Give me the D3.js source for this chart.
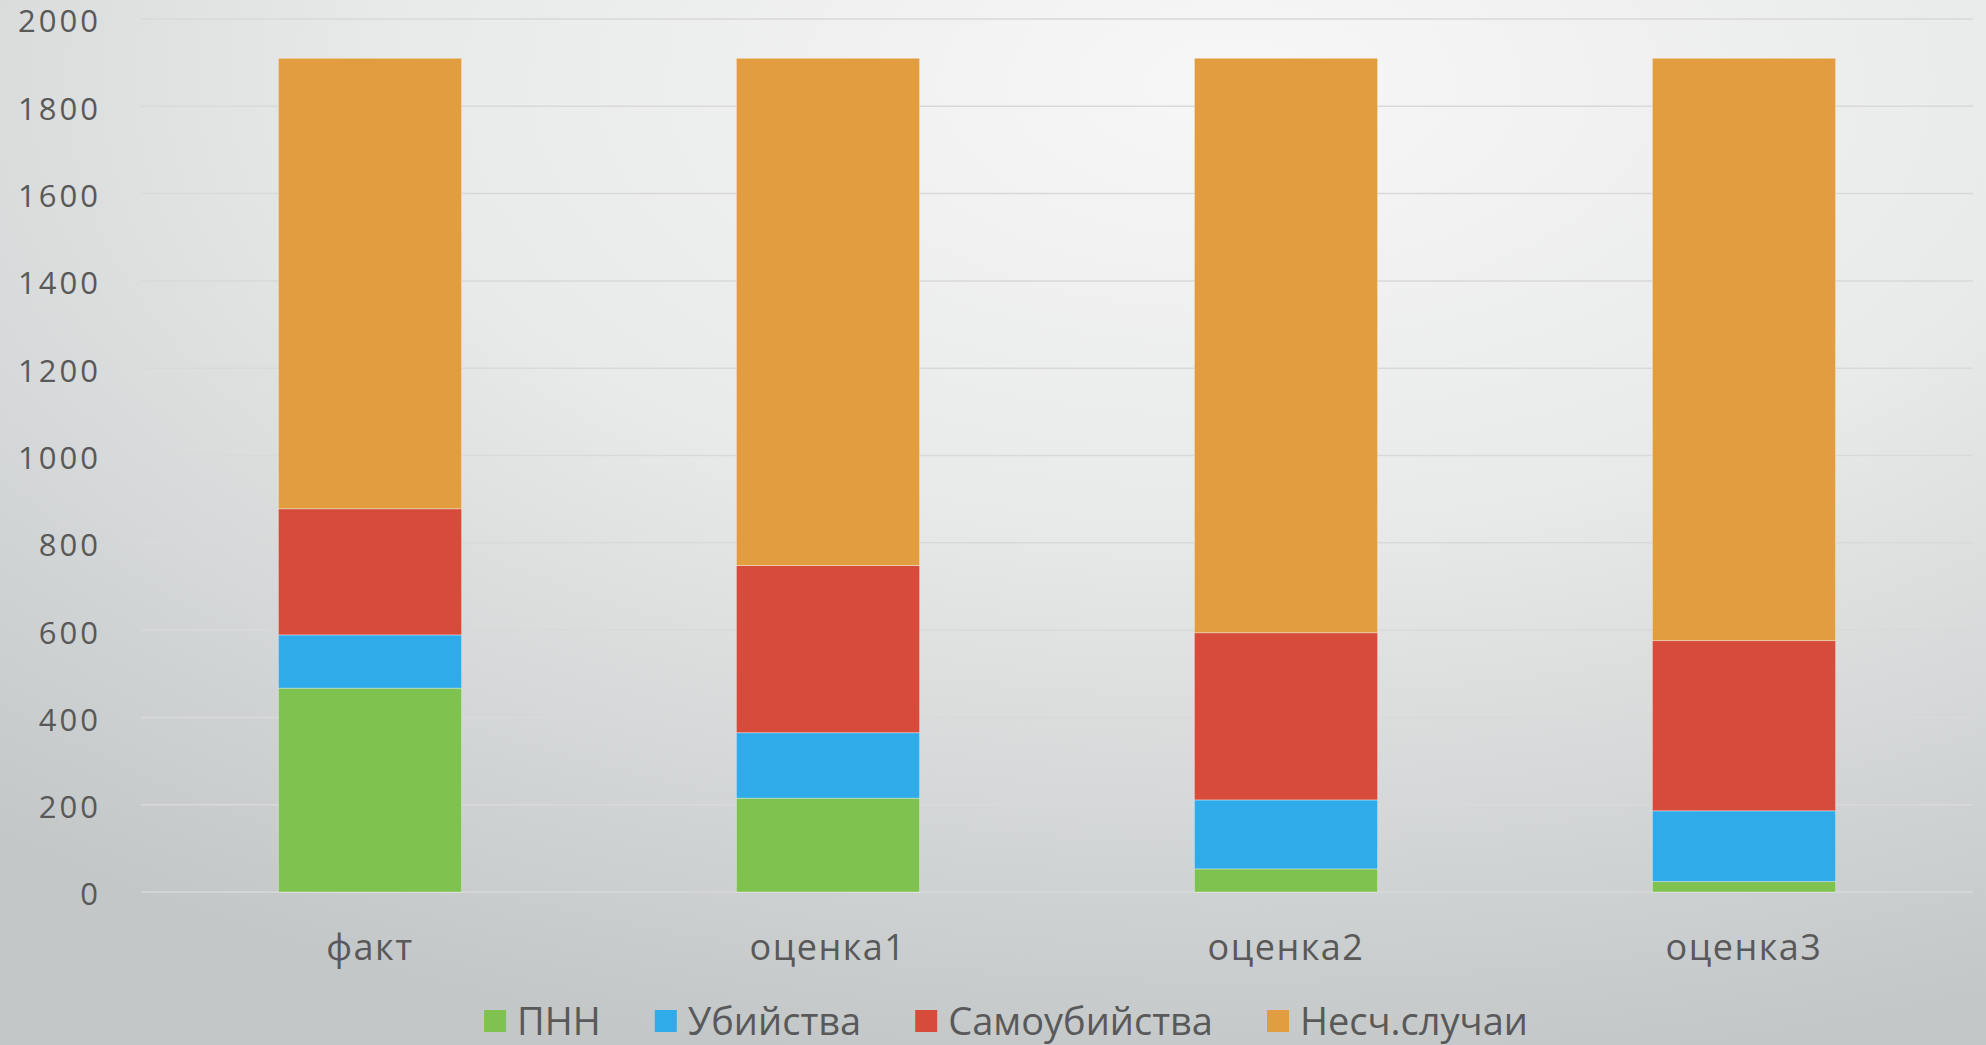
<!DOCTYPE html>
<html>
<head>
<meta charset="utf-8">
<title>Stacked bars</title>
<script src="https://cdn.jsdelivr.net/npm/d3@7"></script>
<style>
body { margin: 0; overflow: hidden; }
text { font-family: "Open Sans", sans-serif; fill: #595959; }
.grid line { stroke: #d9d9d9; stroke-width: 1.5px; }
</style>
</head>
<body>
<div id="chart"></div>
<script>
// categories and series
var categories = ["факт", "оценка1", "оценка2", "оценка3"];
var seriesNames = ["ПНН", "Убийства", "Самоубийства", "Несч.случаи"];
var pnn = [467, 215, 53, 24];
var ubiystva = [122, 150, 158, 162];
var samoubiystva = [289, 383, 383, 390];
var neschSluchai = [1032, 1162, 1316, 1334];
var yTicks = [0, 200, 400, 600, 800, 1000, 1200, 1400, 1600, 1800, 2000];

var colors = ["#7fc24f", "#30abea", "#d74b3b", "#e19d40"];

var width = 1986, height = 1045;

var rows = categories.map(function(c, i) {
  return {cat: c, "ПНН": pnn[i], "Убийства": ubiystva[i], "Самоубийства": samoubiystva[i], "Несч.случаи": neschSluchai[i]};
});

var svg = d3.select("#chart").append("svg")
  .attr("width", width)
  .attr("height", height);

var defs = svg.append("defs");
var grad = defs.append("radialGradient")
  .attr("id", "bg")
  .attr("cx", "62%").attr("cy", "8%").attr("r", "95%")
  .attr("gradientUnits", "objectBoundingBox");
grad.append("stop").attr("offset", "0%").attr("stop-color", "#f7f7f7");
grad.append("stop").attr("offset", "45%").attr("stop-color", "#e8e9e9");
grad.append("stop").attr("offset", "100%").attr("stop-color", "#c3c7c8");

svg.append("rect")
  .attr("width", width).attr("height", height)
  .attr("fill", "url(#bg)");

var x = d3.scaleBand()
  .domain(categories)
  .range([141, 1973])
  .paddingInner(0.6)
  .paddingOuter(0.3);

var y = d3.scaleLinear()
  .domain([0, 2000])
  .range([892, 19]);

// gridlines
svg.append("g").attr("class", "grid")
  .selectAll("line")
  .data(yTicks)
  .enter().append("line")
  .attr("x1", 141).attr("x2", 1973)
  .attr("y1", function(d) { return y(d); })
  .attr("y2", function(d) { return y(d); });

// y axis labels
var yAxis = d3.axisLeft(y).tickValues(yTicks).tickFormat(d3.format("d")).tickSize(0).tickPadding(0);
var yg = svg.append("g")
  .attr("transform", "translate(101,3)")
  .call(yAxis);
yg.select(".domain").remove();
yg.selectAll("text")
  .style("font-family", "'Open Sans', sans-serif")
  .style("font-size", "31px")
  .style("letter-spacing", "3px")
  .attr("fill", "#595959");

// bars
var stack = d3.stack().keys(seriesNames);
var layers = stack(rows);

svg.append("g").selectAll("g")
  .data(layers)
  .enter().append("g")
  .attr("fill", function(d, i) { return colors[i]; })
  .selectAll("rect")
  .data(function(d) { return d; })
  .enter().append("rect")
  .attr("x", function(d) { return x(d.data.cat); })
  .attr("width", x.bandwidth())
  .attr("y", function(d) { return y(d[1]); })
  .attr("height", function(d) { return y(d[0]) - y(d[1]); })
  .attr("stroke", "rgba(255,255,255,0.35)")
  .attr("stroke-width", 1);

// x axis labels
var xAxis = d3.axisBottom(x).tickSize(0).tickPadding(0);
var xg = svg.append("g")
  .attr("transform", "translate(0,934)")
  .call(xAxis);
xg.select(".domain").remove();
xg.selectAll("text")
  .style("font-family", "'Open Sans', sans-serif")
  .style("font-size", "36px")
  .style("letter-spacing", "1.5px")
  .attr("fill", "#595959");

// legend
var legend = svg.append("g");
var items = legend.selectAll("g")
  .data(seriesNames)
  .enter().append("g");
items.append("rect")
  .attr("width", 22).attr("height", 22)
  .attr("y", 1010)
  .attr("fill", function(d, i) { return colors[i]; });
items.append("text")
  .attr("x", 33)
  .attr("y", 1035)
  .style("font-size", "38px")
  .text(function(d) { return d; });

var pos = 0, offsets = [];
items.each(function(d, i) {
  offsets.push(pos);
  var w = d3.select(this).select("text").node().getComputedTextLength();
  pos += 33 + w + 54;
});
var total = pos - 54;
var start = 1006 - total / 2;
items.attr("transform", function(d, i) { return "translate(" + (start + offsets[i]) + ",0)"; });
</script>
</body>
</html>
